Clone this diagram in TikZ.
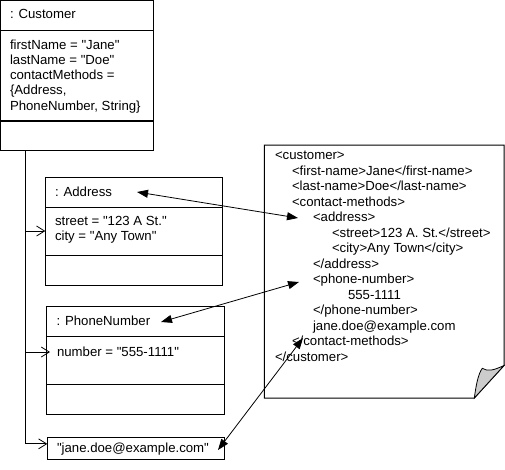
\documentclass[tikz,border=0pt]{standalone}
\usepackage{fontspec}
\setmainfont{Liberation Sans}
\usetikzlibrary{arrows.meta}
\newcommand{\qq}{\textquotedbl}
\begin{document}
\begin{tikzpicture}[x=1pt,y=-1pt,
  every node/.style={inner sep=0pt, outer sep=0pt, anchor=base west, font=\fontsize{13.2}{15.5}\selectfont},
  box/.style={draw, line width=1pt, anchor=north west},
  link/.style={line width=0.8pt},
  open/.style={link, -{Straight Barb[length=8pt,width=10pt]}},
  assoc/.style={link, {Triangle[length=11pt,width=8pt]}-{Triangle[length=11pt,width=8pt]}}
]
\useasboundingbox (0,0) rectangle (505,469);

% Customer
\node[box, minimum width=152.5pt, minimum height=149.5pt] (cust) at (0.5,0.5) {};
\draw[line width=1pt] (0.5,30) -- (153,30);
\draw[line width=1.2pt] (0.5,121) -- (153,121);
\node (custT) at (10,18.5) {: Customer};
\node (c1) at (10,49) {firstName = \qq Jane\qq};
\node (c2) at (10,64.3) {lastName = \qq Doe\qq};
\node (c3) at (10,79.6) {contactMethods =};
\node (c4) at (10,94.9) {\{Address,};
\node (c5) at (10,110.2) {PhoneNumber, String\}};

% Address
\node[box, minimum width=177pt, minimum height=108pt] (addr) at (45.3,177.3) {};
\draw[line width=1pt] (45.3,207.3) -- (222.3,207.3);
\draw[line width=1pt] (45.3,255.7) -- (222.3,255.7);
\node (addrT) at (55,196.5) {: Address};
\node (a1) at (55,225.5) {street = \qq 123 A St.\qq};
\node (a2) at (55,240.8) {city = \qq Any Town\qq};

% PhoneNumber
\node[box, minimum width=178.3pt, minimum height=107.6pt] (phone) at (46,306.7) {};
\draw[line width=1pt] (46,336) -- (224.3,336);
\draw[line width=1pt] (46,384.3) -- (224.3,384.3);
\node (phoneT) at (56.5,325.5) {: PhoneNumber};
\node (p1) at (57,356) {number = \qq 555-1111\qq};

% email
\node[box, minimum width=177pt, minimum height=21.3pt] (email) at (47.3,437.7) {};
\node (emailT) at (57,452) {\qq jane.doe@example.com\qq};

% trunk and branches
\coordinate (trunk) at (25,150);
\draw[open] (trunk) |- ([yshift=4.5pt]email.west);
\draw[open] (trunk |- 0,231) -- (addr.west |- 0,231);
\draw[open] (trunk |- 0,352) -- ([xshift=4pt]phone.west |- 0,352);

% XML document
\coordinate (docNW) at (264.3,145);
\coordinate (docNE) at (504,145);
\coordinate (docE) at (504,365.5);
\coordinate (docS) at (474.3,398);
\coordinate (docSW) at (264.3,398);
\draw[line width=1pt] (docNW) -- (docNE) -- (docE) -- (docS) -- (docSW) -- cycle;
\filldraw[fill=gray!40, line width=0.8pt] (docS) .. controls (476,386) and (478,374) .. (482.3,368.3)
  .. controls (488,372) and (494,370) .. (docE) -- cycle;

\node (x1) at (275,159.5) {<customer>};
\node (x2) at (292,175) {<first-name>Jane</first-name>};
\node (x3) at (292,190.5) {<last-name>Doe</last-name>};
\node (x4) at (292,206) {<contact-methods>};
\node (x5) at (313,221.5) {<address>};
\node (x6) at (332,237) {<street>123 A. St.</street>};
\node (x7) at (332,252.5) {<city>Any Town</city>};
\node (x8) at (313,268) {</address>};
\node (x9) at (313,283.5) {<phone-number>};
\node (x10) at (348,299) {555-1111};
\node (x11) at (313,314.5) {</phone-number>};
\node (x12) at (313,330) {jane.doe@example.com};
\node (x13) at (292,345.5) {</contact-methods>};
\node (x14) at (275,361) {</customer>};

% associations
\coordinate (aA) at (137,192);
\coordinate (xA) at (298,218);
\coordinate (aP) at (161,322);
\coordinate (xP) at (299,282);
\coordinate (aE) at (218,450);
\coordinate (xE) at (303,338);
\draw[assoc] (aA) -- (xA);
\draw[assoc] (aP) -- (xP);
\draw[assoc] (aE) -- (xE);
\end{tikzpicture}
\end{document}
